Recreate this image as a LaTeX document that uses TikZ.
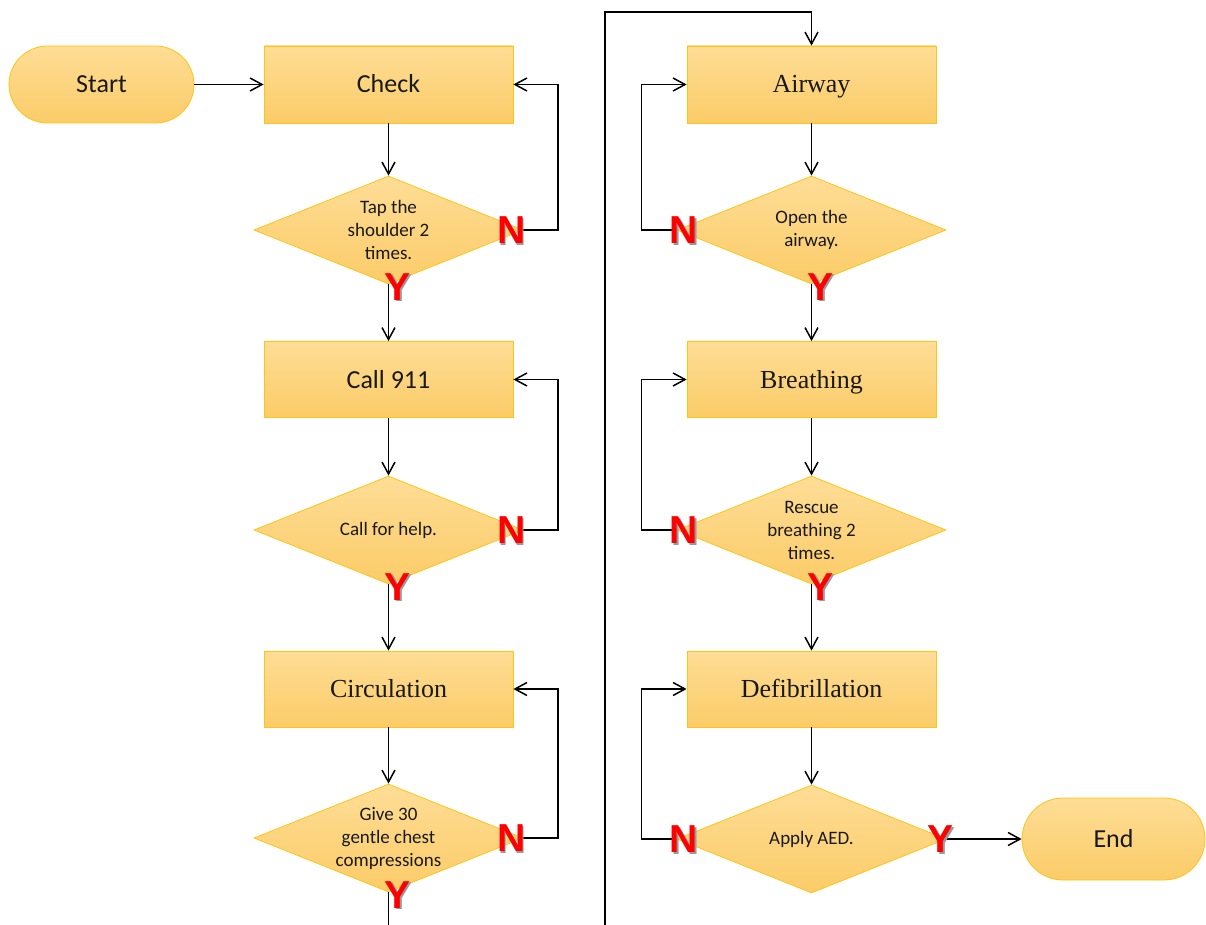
\documentclass[tikz,border=0pt]{standalone}
\usepackage{fontspec}
\newfontfamily\calib{Carlito}
\newfontfamily\tmsf{Liberation Serif}
\newfontfamily\arialf{Liberation Sans}
\usetikzlibrary{shapes.geometric,arrows.meta,calc}
\definecolor{ftop}{RGB}{254,221,150}
\definecolor{fbot}{RGB}{251,204,104}
\definecolor{bord}{RGB}{255,196,20}
\definecolor{txt}{RGB}{25,25,25}
\newcommand\yn[1]{\rlap{\kern1.6pt\raisebox{-1.6pt}{\textcolor{black!40}{#1}}}\textcolor{red}{#1}}
\tikzset{
 base/.style={draw=bord, line width=0.8pt, top color=ftop, bottom color=fbot, text=txt, inner sep=0pt},
 procbox/.style={base, rectangle, minimum width=249pt, minimum height=77pt, text height=17pt, text depth=0pt},
 sansbox/.style={procbox, font=\calib\fontsize{26}{30}\selectfont},
 serifbox/.style={procbox, font=\tmsf\fontsize{26}{30}\selectfont},
 term/.style={base, rectangle, text height=17pt, text depth=0pt, font=\calib\fontsize{26}{30}\selectfont},
 dec/.style={base, diamond, aspect=2.49, inner sep=-4pt, minimum width=269pt, minimum height=108pt, align=center, font=\calib\fontsize{19}{23}\selectfont},
 conn/.style={line width=1.5pt, black},
 arr/.style={conn, -{Straight Barb[length=12pt,width=13pt]}},
 ynlab/.style={inner sep=0pt, font=\arialf\bfseries\fontsize{39}{40}\selectfont},
}
\begin{document}
\begin{tikzpicture}[x=1pt,y=-1pt]
\useasboundingbox (0,0) rectangle (1206,925);
% left column
\node[term, rounded corners=38.5pt, minimum width=185pt, minimum height=77pt] (start) at (101.5,84.5) {Start};
\node[sansbox] (check) at (388.5,84.5) {Check};
\node[dec] (d1) at (388.5,230) {Tap the\\shoulder 2\\times.};
\node[sansbox, minimum height=76pt] (call) at (388.5,379.5) {Call 911};
\node[dec] (d2) at (388.5,530) {Call for help.};
\node[serifbox, minimum height=76pt] (circ) at (388.5,689) {Circulation};
\node[dec] (d3) at (388.5,838) {Give 30\\gentle chest\\compressions};
% right column
\node[serifbox] (airway) at (811.5,84.5) {Airway};
\node[dec] (d4) at (811.5,230) {Open the\\airway.};
\node[serifbox, minimum height=76pt] (breath) at (811.5,379.5) {Breathing};
\node[dec] (d5) at (811.5,530) {Rescue\\breathing 2\\times.};
\node[serifbox, minimum height=76pt] (defib) at (811.5,689) {Defibrillation};
\node[dec] (d6) at (811.5,839) {Apply AED.};
\node[term, rounded corners=41pt, minimum width=183pt, minimum height=82pt] (end) at (1113.5,839) {End};
% connectors
\draw[arr] (start) -- (check);
\draw[arr] (check) -- (d1);
\draw[arr] (d1.east) -- ++(34.5,0) |- (check.east);
\draw[arr] (d1) -- (call);
\draw[arr] (call) -- (d2);
\draw[arr] (d2.east) -- ++(34.5,0) |- (call.east);
\draw[arr] (d2) -- (circ);
\draw[arr] (circ) -- (d3);
\draw[arr] (d3.east) -- ++(34.5,0) |- (circ.east);
\coordinate (botL) at (388.5,925);
\coordinate (botR) at (605,925);
\coordinate (topR) at (605,12);
\draw[conn] (d3) -- (botL);
\draw[arr] (botR) -- (topR) -| (airway.north);
\draw[arr] (airway) -- (d4);
\draw[arr] (d4.west) -- ++(-35,0) |- (airway.west);
\draw[arr] (d4) -- (breath);
\draw[arr] (breath) -- (d5);
\draw[arr] (d5.west) -- ++(-35,0) |- (breath.west);
\draw[arr] (d5) -- (defib);
\draw[arr] (defib) -- (d6);
\draw[arr] (d6.west) -- ++(-35,0) |- (defib.west);
\draw[arr] (d6) -- (end);
% Y / N labels
\node[ynlab] (n1) at ($(d1.east)+(-12,1)$) {\yn{N}};
\node[ynlab] (y1) at ($(d1.south)+(9,3)$) {\yn{Y}};
\node[ynlab] (n2) at ($(d2.east)+(-12,1)$) {\yn{N}};
\node[ynlab] (y2) at ($(d2.south)+(9,3)$) {\yn{Y}};
\node[ynlab] (n3) at ($(d3.east)+(-12,1)$) {\yn{N}};
\node[ynlab] (y3) at ($(d3.south)+(9,3)$) {\yn{Y}};
\node[ynlab] (n4) at ($(d4.west)+(7,1)$) {\yn{N}};
\node[ynlab] (y4) at ($(d4.south)+(9,3)$) {\yn{Y}};
\node[ynlab] (n5) at ($(d5.west)+(7,1)$) {\yn{N}};
\node[ynlab] (y5) at ($(d5.south)+(9,3)$) {\yn{Y}};
\node[ynlab] (n6) at ($(d6.west)+(7,1)$) {\yn{N}};
\node[ynlab] (y6) at ($(d6.east)+(-6,1)$) {\yn{Y}};
\end{tikzpicture}
\end{document}
